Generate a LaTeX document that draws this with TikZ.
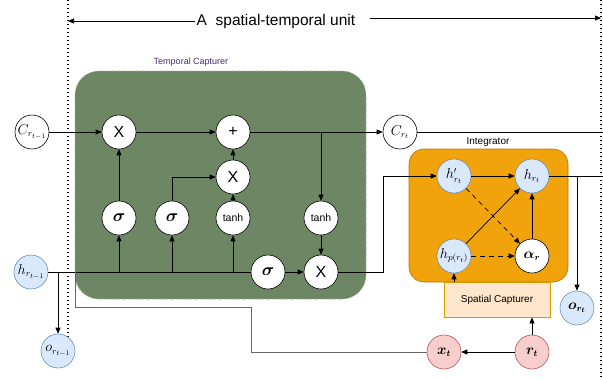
\documentclass[tikz,border=0pt]{standalone}
\usepackage{fontspec}
\usepackage{amsmath,bm}
\setmainfont{Liberation Sans}
\usetikzlibrary{arrows.meta}
\definecolor{greenF}{HTML}{6D8764}
\definecolor{greenD}{HTML}{9DB496}
\definecolor{orangeF}{HTML}{F0A30A}
\definecolor{orangeD}{HTML}{BD7000}
\definecolor{scF}{HTML}{FFE6CC}
\definecolor{scD}{HTML}{D79B00}
\definecolor{blueF}{HTML}{DAE8FC}
\definecolor{blueD}{HTML}{6C8EBF}
\definecolor{redF}{HTML}{F8CECC}
\definecolor{redD}{HTML}{B85450}
\definecolor{purp}{HTML}{432D6B}
\definecolor{grayL}{HTML}{666666}
\begin{document}
\begin{tikzpicture}[x=1pt,y=-1pt,
  circ/.style={circle, draw=black, fill=white, minimum size=34pt, inner sep=0pt, line width=0.6pt, font=\fontsize{13.5}{15}\selectfont},
  bcirc/.style={circ, fill=blueF, draw=blueD},
  rcirc/.style={circ, fill=redF, draw=redD},
  opx/.style={font=\fontsize{16}{18}\selectfont},
  sig/.style={font=\fontsize{19}{21}\selectfont},
  tnh/.style={font=\fontsize{10.5}{12}\selectfont},
  arr/.style={-{Triangle[length=6pt,width=5pt]}, line width=0.7pt},
  ln/.style={line width=0.7pt},
  dashedarr/.style={arr, dash pattern=on 5pt off 4pt},
  dotln/.style={line width=1.3pt, dash pattern=on 1.3pt off 2.7pt},
  grayln/.style={draw=grayL, line width=1pt},
]
\useasboundingbox (0,0) rectangle (603,378);

% dotted boundaries
\coordinate (dl1) at (68,0);
\coordinate (dl2) at (68,340);
\coordinate (dr1) at (601,0);
\coordinate (dr2) at (601,378);
\draw[dotln] (dl1) -- (dl2);
\draw[dotln] (dr1) -- (dr2);

% title
\node[font=\fontsize{15.5}{18}\selectfont, inner sep=2pt] (title) at (276,21) {A\ \ spatial-temporal unit};
\coordinate (lt) at (68,21);
\coordinate (rs) at (370,18);
\coordinate (re) at (601,18);
\draw[arr] (title.west) -- (lt);
\draw[arr] (rs) -- (re);

% boxes
\node[draw=greenD, fill=greenF, dashed, line width=0.6pt, rounded corners=24pt, minimum width=291pt, minimum height=228pt] (tc) at (220.5,185) {};
\node[text=purp, font=\fontsize{9}{11}\selectfont] (tclab) at (191,62) {Temporal Capturer};

\node[draw=orangeD, fill=orangeF, line width=0.6pt, rounded corners=15pt, minimum width=159pt, minimum height=133pt] (integ) at (488.5,215.5) {};
\node[font=\fontsize{10}{12}\selectfont] (intlab) at (488,142) {Integrator};

\node[draw=scD, fill=scF, line width=0.8pt, minimum width=106pt, minimum height=35pt, font=\fontsize{10}{12}\selectfont] (sc) at (497,299.5) {Spatial Capturer};

% circles
\node[circ] (cprev) at (32,132) {$C_{r_{t-1}}$};
\node[circ, opx] (x1) at (119,132) {X};
\node[circ, opx] (plus) at (233,132) {+};
\node[circ, opx] (x2) at (233,177) {X};
\node[circ, sig] (s1) at (119,218) {$\bm{\sigma}$};
\node[circ, sig] (s2) at (172,218) {$\bm{\sigma}$};
\node[circ, tnh] (t1) at (233,218) {tanh};
\node[circ, tnh] (t2) at (321,218) {tanh};
\node[circ, sig] (s3) at (268,272) {$\bm{\sigma}$};
\node[circ, opx] (x3) at (321,272) {X};
\node[circ] (crt) at (400,132) {$C_{r_t}$};

\node[bcirc] (hprev) at (31,272) {$h_{r_{t-1}}$};
\node[bcirc] (oprev) at (58,351) {$o_{r_{t-1}}$};
\node[bcirc] (hpr) at (454,176) {$h'_{r_t}$};
\node[bcirc] (hrt) at (532,176) {$h_{r_t}$};
\node[bcirc] (hp) at (454,256) {$h_{p(r_t)}$};
\node[circ] (al) at (532,256) {$\bm{\alpha}_{\bm{r}}$};
\node[bcirc] (ort) at (577,308) {$\bm{o}_{\bm{r_t}}$};
\node[rcirc] (xt) at (444,352) {$\bm{x_t}$};
\node[rcirc] (rt) at (532,352) {$\bm{r_t}$};

% coordinates
\coordinate (br1) at (321,132);
\coordinate (cout) at (603,132);
\coordinate (br2) at (58,272);
\coordinate (j1) at (383,272);
\coordinate (br3) at (577,176);
\coordinate (hout) at (603,176);
\coordinate (g1) at (251,307);
\coordinate (g2) at (75,307);
\coordinate (g3) at (75,272);

% temporal capturer connections
\draw[arr] (cprev) -- (x1);
\draw[arr] (x1) -- (plus);
\draw[arr] (plus) -- (crt);
\draw[ln] (crt) -- (cout);
\draw[arr] (br1) -- (t2);
\draw[arr] (t2) -- (x3);
\draw[arr] (x2) -- (plus);
\draw[arr] (t1) -- (x2);
\draw[arr] (s1) -- (x1);
\draw[arr] (s2) |- (x2);
\draw[ln] (hprev) -- (s3);
\draw[arr] (s1 |- hprev) -- (s1);
\draw[arr] (s2 |- hprev) -- (s2);
\draw[arr] (t1 |- hprev) -- (t1);
\draw[arr] (s3) -- (x3);
\draw[arr] (x3) -- (j1) |- (hpr);
\draw[arr] (br2) -- (oprev);

% gray feedback line
\draw[grayln] (xt) -| (g1) -- (g2) -- (g3);

% integrator connections
\draw[arr] (hpr) -- (hrt);
\draw[arr] (hp) -- (hrt);
\draw[dashedarr] (hpr) -- (al);
\draw[dashedarr] (hp) -- (al);
\draw[arr] (al) -- (hrt);
\draw[ln] (hrt) -- (hout);
\draw[arr] (br3) -- (ort);
\draw[arr] (hp |- sc.north) -- (hp);
\draw[arr] (rt) -- (rt |- sc.south);
\draw[arr] (rt) -- (xt);
\end{tikzpicture}
\end{document}
